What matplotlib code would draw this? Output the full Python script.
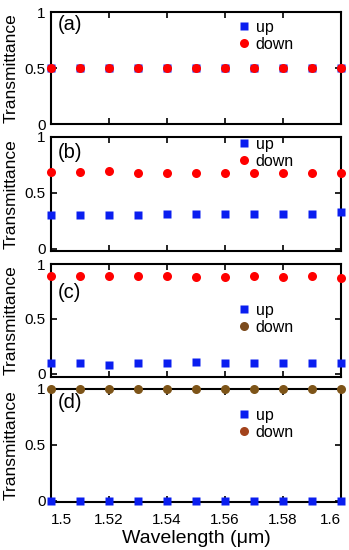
import numpy as np
import matplotlib.pyplot as plt
from matplotlib.lines import Line2D

plt.rcParams['font.family'] = ['Liberation Sans', 'DejaVu Sans']

wl = [1.50, 1.51, 1.52, 1.53, 1.54, 1.55, 1.56, 1.57, 1.58, 1.59, 1.60]

up_a = [0.5] * 11
down_a = [0.5] * 11
up_b = [0.30, 0.30, 0.30, 0.30, 0.31, 0.31, 0.315, 0.315, 0.315, 0.31, 0.325]
down_b = [0.69, 0.69, 0.695, 0.68, 0.68, 0.68, 0.678, 0.678, 0.68, 0.68, 0.678]
up_c = [0.10, 0.10, 0.08, 0.095, 0.095, 0.11, 0.10, 0.10, 0.095, 0.095, 0.10]
down_c = [0.895, 0.895, 0.895, 0.89, 0.89, 0.882, 0.885, 0.895, 0.879, 0.89, 0.876]
up_d = [0.0] * 11
down_d = [1.0] * 11

xticks = [1.5, 1.52, 1.54, 1.56, 1.58, 1.6]
xlabels = ['1.5', '1.52', '1.54', '1.56', '1.58', '1.6']

panels = [('(a)', up_a, down_a, 'red', 'red'),
          ('(b)', up_b, down_b, 'red', 'red'),
          ('(c)', up_c, down_c, 'red', '#7b4a1c'),
          ('(d)', up_d, down_d, '#7d5418', '#a3431c')]

# axes boxes in figure pixels: (top, bottom)
W, H = 349, 550
boxes = [(12, 124), (137, 251), (264, 377), (389, 502)]
ylims = [(0, 1), (-0.02, 1), (-0.03, 1), (-0.01, 1)]
lab_y = [25, 153, 292, 403]
leg_y = [20, 137, 303, 408]

fig = plt.figure(figsize=(W / 100, H / 100), dpi=100)
left, right = 51 / W, 341 / W

for i, (lab, up, down, dcol, lcol) in enumerate(panels):
    top, bot = boxes[i]
    ax = fig.add_axes([left, 1 - bot / H, right - left, (bot - top) / H])
    ax.plot(wl, up, 's', color='#0a1ef0', ms=5.8, mec='none', clip_on=False, zorder=3)
    ax.plot(wl, down, 'o', color=dcol, ms=6.5, mec='none', clip_on=False, zorder=4)
    ax.set_xlim(1.5, 1.6)
    ax.set_ylim(*ylims[i])
    ax.set_yticks([0, 0.5, 1])
    ax.set_yticklabels(['0', '0.5', '1'])
    ax.set_xticks(xticks)
    ax.tick_params(direction='in', top=True, right=True, length=4, width=1.2,
                   labelsize=11)
    ax.tick_params(axis='y', pad=4)
    ax.tick_params(axis='x', pad=8)
    for s in ax.spines.values():
        s.set_linewidth(1.5)
    if i < 3:
        ax.set_xticklabels([])
    else:
        tl = ax.set_xticklabels(xlabels)
        tl[0].set_ha('left')
        tl[-1].set_ha('right')
        ax.set_xlabel('Wavelength (\u03bcm)', fontsize=14, labelpad=2)
    ax.set_ylabel('Transmittance', fontsize=12.5)
    ax.yaxis.set_label_coords(-0.112, 0.5)
    ax.text(58 / W, 1 - lab_y[i] / H, lab, transform=fig.transFigure,
            fontsize=14.5, va='center', ha='left')
    handles = [Line2D([], [], ls='none', marker='s', color='#0a1ef0', ms=5.8, mec='none'),
               Line2D([], [], ls='none', marker='o', color=lcol, ms=6.5, mec='none')]
    ax.legend(handles, ['up', 'down'], loc='upper left', frameon=False,
              bbox_to_anchor=(238 / W, 1 - leg_y[i] / H), bbox_transform=fig.transFigure,
              fontsize=11.5, handlelength=0.8, handletextpad=0.3, labelspacing=0.1,
              borderpad=0, borderaxespad=0)

fig.savefig('out.png', dpi=100)
